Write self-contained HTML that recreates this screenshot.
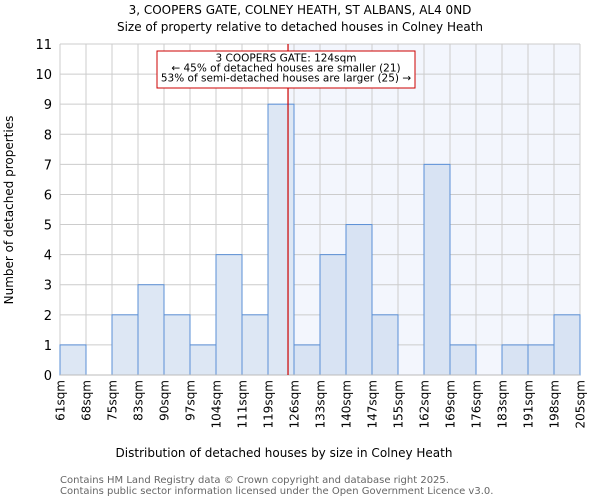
<!DOCTYPE html>
<html><head><meta charset="utf-8"><style>
body{margin:0;background:#fff;font-family:"DejaVu Sans","Liberation Sans",sans-serif}
</style></head><body>
<svg width="600" height="500" xmlns="http://www.w3.org/2000/svg" font-family="DejaVu Sans, Liberation Sans, sans-serif">
<text x="300" y="14" text-anchor="middle" font-size="12">3, COOPERS GATE, COLNEY HEATH, ST ALBANS, AL4 0ND</text>
<text x="300" y="31" text-anchor="middle" font-size="12">Size of property relative to detached houses in Colney Heath</text>
<g id="plot"></g>
<text x="284" y="457" text-anchor="middle" font-size="12">Distribution of detached houses by size in Colney Heath</text>
<text transform="translate(13,210) rotate(-90)" text-anchor="middle" font-size="12">Number of detached properties</text>
<text x="60" y="483" font-size="10" fill="#666">Contains HM Land Registry data © Crown copyright and database right 2025.</text>
<text x="60" y="494" font-size="10" fill="#666">Contains public sector information licensed under the Open Government Licence v3.0.</text>
</svg>
<script>
const categories=["61sqm","68sqm","75sqm","83sqm","90sqm","97sqm","104sqm","111sqm","119sqm","126sqm","133sqm","140sqm","147sqm","155sqm","162sqm","169sqm","176sqm","183sqm","191sqm","198sqm","205sqm"];
const counts=[1,0,2,3,2,1,4,2,9,1,4,5,2,0,7,1,0,1,1,2];
const yTicks=[0,1,2,3,4,5,6,7,8,9,10,11];
const markerBinPos=8.77;
const NS="http://www.w3.org/2000/svg";
const g=document.getElementById('plot');
const X0=60,X1=580,Y0=375,Y1=44,YMAX=11;
const bw=(X1-X0)/counts.length;
const xs=i=>X0+i*bw;
const ys=v=>Y0-(Y0-Y1)*v/YMAX;
function mk(t,a){const e=document.createElementNS(NS,t);for(const k in a)e.setAttribute(k,a[k]);g.appendChild(e);return e;}
const mx=xs(markerBinPos);
let r=mk('rect',{x:mx,y:Y1,width:X1-mx,height:Y0-Y1,fill:'#f3f6fd'});


yTicks.forEach(v=>{const l=mk('line',{x1:X0,x2:X1,y1:ys(v),y2:ys(v),stroke:'#ccc'});


const t=mk('text',{x:X0-8,y:ys(v)+5,'text-anchor':'end','font-size':'13'});t.textContent=v;

});
categories.forEach((c,i)=>{const l=mk('line',{x1:xs(i),x2:xs(i),y1:Y1,y2:Y0,stroke:'#ccc'});


const t=mk('text',{transform:`translate(${xs(i)+4.5},${Y0+5}) rotate(-90)`,'text-anchor':'end','font-size':'12'});t.textContent=c;

});
counts.forEach((v,i)=>{if(v<=0)return;const b=mk('rect',{x:xs(i),y:ys(v),width:bw,height:Y0-ys(v),fill:i>=9?'#d8e3f3':'#dde7f4',stroke:'#5a8fd6','stroke-width':1});

});
const ax=mk('line',{x1:X0,x2:X1,y1:Y0,y2:Y0,stroke:'#bbb'});


const ml=mk('line',{x1:mx,x2:mx,y1:Y1,y2:Y0,stroke:'#cc0000','stroke-width':1.2});


const box=mk('rect',{x:157,y:51,width:258,height:37,fill:'#fff',stroke:'#cc0000'});


["3 COOPERS GATE: 124sqm","← 45% of detached houses are smaller (21)","53% of semi-detached houses are larger (25) →"].forEach((s,i)=>{const t=mk('text',{x:286,y:61.5+i*10,'text-anchor':'middle','font-size':'10.5'});t.textContent=s;

});
</script>
</body></html>
